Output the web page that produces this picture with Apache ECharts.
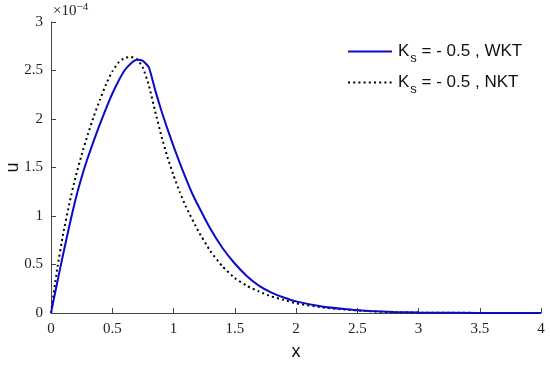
<!DOCTYPE html>
<html>
<head>
<meta charset="utf-8">
<script src="https://cdn.jsdelivr.net/npm/echarts@6/dist/echarts.min.js"></script>
<style>
  html, body { margin: 0; padding: 0; background: #fff; }
  #main { width: 550px; height: 365px; }
</style>
</head>
<body>
<div id="main"></div>
<script>
// values of u are in units of 1e-4 (the axis shows x10^-4)
var xWKT = [0, 0.05, 0.1, 0.15, 0.2, 0.25, 0.3, 0.35, 0.4, 0.45, 0.5, 0.55, 0.6, 0.65, 0.7, 0.75, 0.8,
  0.85, 0.9, 0.95, 1.0, 1.05, 1.1, 1.15, 1.2, 1.3, 1.4, 1.5, 1.6, 1.7, 1.8, 1.9, 2.0, 2.2, 2.4, 2.6, 2.8, 3.0, 3.5, 4.0];
var uWKT = [0, 0.31, 0.61, 0.9, 1.17, 1.4, 1.6, 1.78, 1.95, 2.11, 2.26, 2.39, 2.5, 2.57, 2.61, 2.6, 2.53,
  2.3, 2.09, 1.9, 1.72, 1.55, 1.39, 1.24, 1.11, 0.87, 0.67, 0.51, 0.38, 0.28, 0.21, 0.16, 0.12, 0.07, 0.04, 0.02, 0.01, 0.005, 0.001, 0];

var xNKT = [0, 0.05, 0.1, 0.15, 0.2, 0.25, 0.3, 0.35, 0.4, 0.45, 0.5, 0.55, 0.6, 0.65, 0.7, 0.75, 0.8,
  0.85, 0.9, 0.95, 1.0, 1.05, 1.1, 1.2, 1.3, 1.4, 1.5, 1.6, 1.7, 1.8, 1.9, 2.0, 2.2, 2.4, 2.6, 2.8, 3.0, 3.5, 4.0];
var uNKT = [0, 0.45, 0.82, 1.13, 1.4, 1.63, 1.84, 2.03, 2.2, 2.36, 2.49, 2.58, 2.63, 2.64, 2.62, 2.53, 2.34,
  2.08, 1.83, 1.61, 1.42, 1.25, 1.1, 0.85, 0.64, 0.48, 0.36, 0.28, 0.22, 0.17, 0.135, 0.1, 0.06, 0.035, 0.018, 0.008, 0.004, 0.001, 0];

var xTicks = [0, 0.5, 1, 1.5, 2, 2.5, 3, 3.5, 4];
var yTicks = [0, 0.5, 1, 1.5, 2, 2.5, 3];

function pairs(xs, ys) {
  return xs.map(function (x, i) { return [x, ys[i]]; });
}

var myChart = echarts.init(document.getElementById('main'));

var tickFont = { fontFamily: 'Liberation Serif', fontSize: 15, color: '#222' };

myChart.setOption({
  animation: false,
  backgroundColor: '#fff',
  grid: { left: 51, right: 9, top: 22, bottom: 52, containLabel: false, outerBoundsMode: 'none' },
  legend: {
    orient: 'vertical',
    left: 342,
    top: 33,
    itemWidth: 44,
    itemHeight: 14,
    itemGap: 4,
    data: ['WKT', 'NKT'],
    itemStyle: { opacity: 0 },
    formatter: function (name) {
      return '{a|K}{b|s}{a| = - 0.5 , ' + name + '}';
    },
    textStyle: {
      padding: [0, 0, 0, 1],
      rich: {
        a: { fontFamily: 'Liberation Sans', fontSize: 17, color: '#111', lineHeight: 18 },
        b: { fontFamily: 'Liberation Sans', fontSize: 13, color: '#111', padding: [14, 0, 0, 1], lineHeight: 18 }
      }
    }
  },
  graphic: [{
    type: 'text',
    left: 53,
    top: 2,
    style: {
      text: '{m|×10}{e|−4}',
      rich: {
        m: { fontFamily: 'Liberation Serif', fontSize: 15, fill: '#222', padding: [7, 0, 0, 0] },
        e: { fontFamily: 'Liberation Serif', fontSize: 11, fill: '#222' }
      }
    }
  }],
  xAxis: {
    type: 'value',
    min: 0,
    max: 4,
    interval: 0.5,
    name: 'x',
    nameLocation: 'middle',
    nameGap: 30,
    nameMoveOverlap: false,
    nameTextStyle: { fontFamily: 'Liberation Sans', fontSize: 18, color: '#111' },
    axisLine: { lineStyle: { color: '#444', width: 1 } },
    axisTick: { inside: true, length: 5, lineStyle: { color: '#444' } },
    axisLabel: Object.assign({ margin: 9, formatter: function (v) { return xTicks.indexOf(v) >= 0 ? String(v) : ''; } }, tickFont),
    splitLine: { show: false }
  },
  yAxis: {
    type: 'value',
    min: 0,
    max: 3,
    interval: 0.5,
    name: 'u',
    nameLocation: 'middle',
    nameGap: 29,
    nameRotate: 90,
    nameMoveOverlap: false,
    nameTextStyle: { fontFamily: 'Liberation Sans', fontSize: 18, color: '#111' },
    axisLine: { show: true, lineStyle: { color: '#444', width: 1 } },
    axisTick: { show: true, inside: true, length: 5, lineStyle: { color: '#444' } },
    axisLabel: Object.assign({ margin: 8, formatter: function (v) { return yTicks.indexOf(v) >= 0 ? String(v) : ''; } }, tickFont),
    splitLine: { show: false }
  },
  series: [{
    name: 'WKT',
    type: 'line',
    data: pairs(xWKT, uWKT),
    symbol: 'none',
    smooth: 0.15,
    lineStyle: { color: '#0a0ac8', width: 2 },
    itemStyle: { color: '#0a0ac8' },
    z: 3
  }, {
    name: 'NKT',
    type: 'line',
    data: pairs(xNKT, uNKT),
    symbol: 'none',
    smooth: 0.15,
    lineStyle: { color: '#000', width: 2, type: [2, 3.2] },
    itemStyle: { color: '#000' },
    z: 2
  }]
});
</script>
</body>
</html>
